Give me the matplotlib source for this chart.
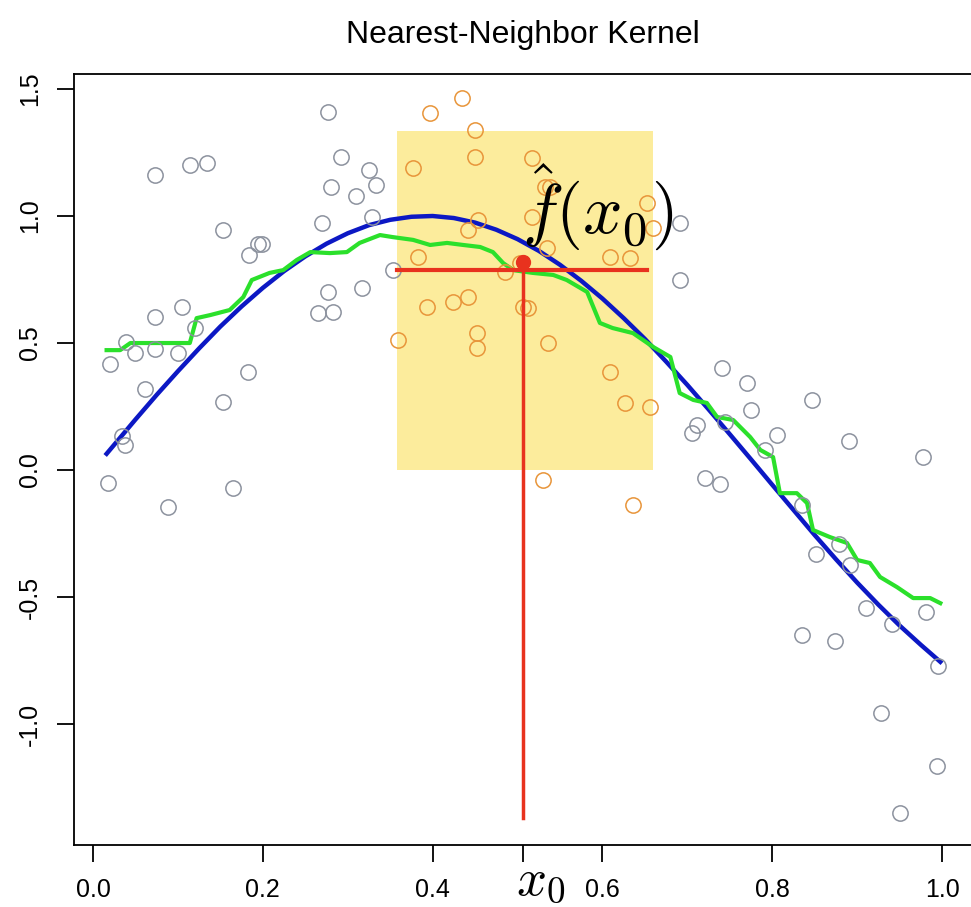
import matplotlib
matplotlib.use('Agg')
import matplotlib.pyplot as plt

plt.rcParams['font.family'] = ['Liberation Sans', 'DejaVu Sans']
plt.rcParams['mathtext.fontset'] = 'cm'

# Pontos fora da janela (cinza)
gray_x = [0.020, 0.018, 0.034, 0.038, 0.039, 0.049, 0.061, 0.073, 0.073, 0.073,
          0.088, 0.100, 0.105, 0.114, 0.134, 0.120, 0.153, 0.153, 0.165, 0.183,
          0.184, 0.194, 0.199, 0.265, 0.283, 0.277, 0.270, 0.277, 0.280, 0.292,
          0.310, 0.317, 0.325, 0.333, 0.329, 0.353,
          0.691, 0.691, 0.706, 0.711, 0.721, 0.739, 0.741, 0.744, 0.770, 0.775,
          0.792, 0.806, 0.847, 0.890, 0.978, 0.835, 0.852, 0.879, 0.892, 0.910,
          0.941, 0.981, 0.835, 0.874, 0.995, 0.928, 0.994, 0.951]
gray_y = [0.417, -0.051, 0.134, 0.098, 0.504, 0.461, 0.319, 0.602, 0.476, 1.161,
          -0.146, 0.461, 0.642, 1.201, 1.209, 0.559, 0.945, 0.268, -0.071, 0.386,
          0.846, 0.890, 0.890, 0.618, 0.622, 0.701, 0.972, 1.409, 1.114, 1.232,
          1.079, 0.717, 1.181, 1.122, 0.996, 0.787,
          0.972, 0.748, 0.146, 0.177, -0.031, -0.055, 0.402, 0.189, 0.343, 0.236,
          0.079, 0.138, 0.276, 0.114, 0.051, -0.138, -0.331, -0.291, -0.374, -0.543,
          -0.606, -0.559, -0.650, -0.673, -0.772, -0.957, -1.165, -1.350]

# Vizinhos mais próximos de x0 (laranja)
near_x = [0.435, 0.397, 0.450, 0.450, 0.377, 0.517, 0.538, 0.532, 0.653, 0.660,
          0.453, 0.442, 0.517, 0.535, 0.383, 0.609, 0.633, 0.485, 0.503, 0.393,
          0.424, 0.442, 0.506, 0.512, 0.359, 0.452, 0.452, 0.536, 0.609, 0.627,
          0.656, 0.530, 0.636]
near_y = [1.465, 1.406, 1.339, 1.232, 1.189, 1.228, 1.114, 1.114, 1.051, 0.953,
          0.984, 0.945, 0.996, 0.874, 0.839, 0.839, 0.835, 0.780, 0.815, 0.642,
          0.661, 0.681, 0.642, 0.638, 0.512, 0.539, 0.480, 0.500, 0.386, 0.264,
          0.248, -0.039, -0.138]

# Curva verdadeira (azul)
true_x = [0.016, 0.050, 0.075, 0.100, 0.125, 0.150, 0.175, 0.200, 0.225, 0.250,
          0.275, 0.300, 0.325, 0.350, 0.375, 0.400, 0.425, 0.450, 0.475, 0.500,
          0.525, 0.550, 0.575, 0.600, 0.625, 0.650, 0.675, 0.700, 0.725, 0.750,
          0.775, 0.800, 0.825, 0.850, 0.875, 0.900, 0.925, 0.950, 0.975, 0.998]
true_y = [0.064, 0.199, 0.296, 0.389, 0.479, 0.565, 0.644, 0.717, 0.783, 0.841,
          0.891, 0.932, 0.964, 0.985, 0.997, 1.000, 0.992, 0.974, 0.946, 0.909,
          0.863, 0.808, 0.745, 0.675, 0.598, 0.516, 0.427, 0.335, 0.239, 0.141,
          0.042, -0.058, -0.157, -0.256, -0.351, -0.443, -0.530, -0.612, -0.688, -0.755]

# Ajuste por vizinhos mais próximos (verde)
knn_x = [0.016, 0.032, 0.044, 0.114, 0.122, 0.138, 0.161, 0.177, 0.187, 0.208,
         0.224, 0.240, 0.256, 0.279, 0.299, 0.314, 0.338, 0.353, 0.377, 0.397,
         0.417, 0.436, 0.456, 0.471, 0.483, 0.495, 0.518, 0.542, 0.558, 0.582,
         0.597, 0.612, 0.636, 0.660, 0.680, 0.691, 0.707, 0.723, 0.735, 0.754,
         0.774, 0.786, 0.801, 0.809, 0.829, 0.841, 0.848, 0.868, 0.888, 0.900,
         0.915, 0.927, 0.947, 0.966, 0.986, 0.998]
knn_y = [0.472, 0.472, 0.500, 0.500, 0.598, 0.610, 0.630, 0.681, 0.748, 0.776,
         0.787, 0.827, 0.858, 0.854, 0.858, 0.894, 0.925, 0.917, 0.906, 0.886,
         0.894, 0.886, 0.878, 0.858, 0.815, 0.787, 0.776, 0.768, 0.748, 0.701,
         0.579, 0.559, 0.539, 0.484, 0.445, 0.303, 0.276, 0.264, 0.209, 0.197,
         0.130, 0.079, 0.051, -0.091, -0.091, -0.130, -0.236, -0.264, -0.287, -0.354,
         -0.366, -0.421, -0.461, -0.504, -0.504, -0.524]

x0 = 0.506
fhat = 0.819
fhat_line = 0.787
win_left, win_right = 0.358, 0.660
win_top = 1.335

fig = plt.figure(figsize=(9.71, 9.07), dpi=100)
ax = fig.add_axes([74 / 971, 1 - 845 / 907, (976 - 74) / 971, (845 - 74) / 907])

# Janela amarela
ax.fill_between([win_left, win_right], 0, win_top, color='#fcec9c', lw=0, zorder=0)

ax.plot(true_x, true_y, color='#0c18c4', lw=3.2, zorder=2)
ax.plot(knn_x, knn_y, color='#2be02b', lw=3, zorder=3)

ax.plot(gray_x, gray_y, 'o', mfc='none', mec='#8c929e', ms=11, mew=1.1, zorder=4)
ax.plot(near_x, near_y, 'o', mfc='none', mec='#e8953a', ms=11, mew=1.1, zorder=4)

# Estimativa em x0
ax.plot([win_left, 0.653], [fhat_line, fhat_line], color='#e8321e', lw=3, zorder=5)
ax.plot([x0, x0], [fhat, -1.37], color='#e8321e', lw=2.5, zorder=5)
ax.plot([x0], [fhat], 'o', color='#e8321e', ms=10, zorder=6)

ax.text(0.594, 1.035, r'$\hat{f}(x_0)$', fontsize=50, ha='center', va='center', zorder=7)

ax.set_xlim(-0.0224, 1.04)
ax.set_ylim(-1.476, 1.559)

xt = [0.0, 0.2, 0.4, 0.6, 0.8, 1.0]
ax.set_xticks(xt + [x0])
ax.set_xticklabels(['0.0', '0.2', '0.4', '0.6', '0.8', '1.0', ''])
ax.xaxis.get_major_ticks()[-1].tick1line.set_color('#e8321e')
ax.set_yticks([-1.0, -0.5, 0.0, 0.5, 1.0, 1.5])
ax.set_yticklabels(['-1.0', '-0.5', '0.0', '0.5', '1.0', '1.5'], rotation=90, va='center')
ax.tick_params(axis='both', length=12, width=1.3, labelsize=18, direction='out')
ax.tick_params(axis='x', pad=12)
ax.tick_params(axis='y', pad=11)
for s in ax.spines.values():
    s.set_linewidth(1.3)

# Rótulo x0 sob o eixo
fig.text(516 / 971, 2 / 907, r'$x_0$', fontsize=38, ha='left', va='bottom')

fig.text(523 / 971, 1 - 43 / 907, 'Nearest-Neighbor Kernel', fontsize=23,
         ha='center', va='baseline')

fig.savefig('out.png', dpi=100)
